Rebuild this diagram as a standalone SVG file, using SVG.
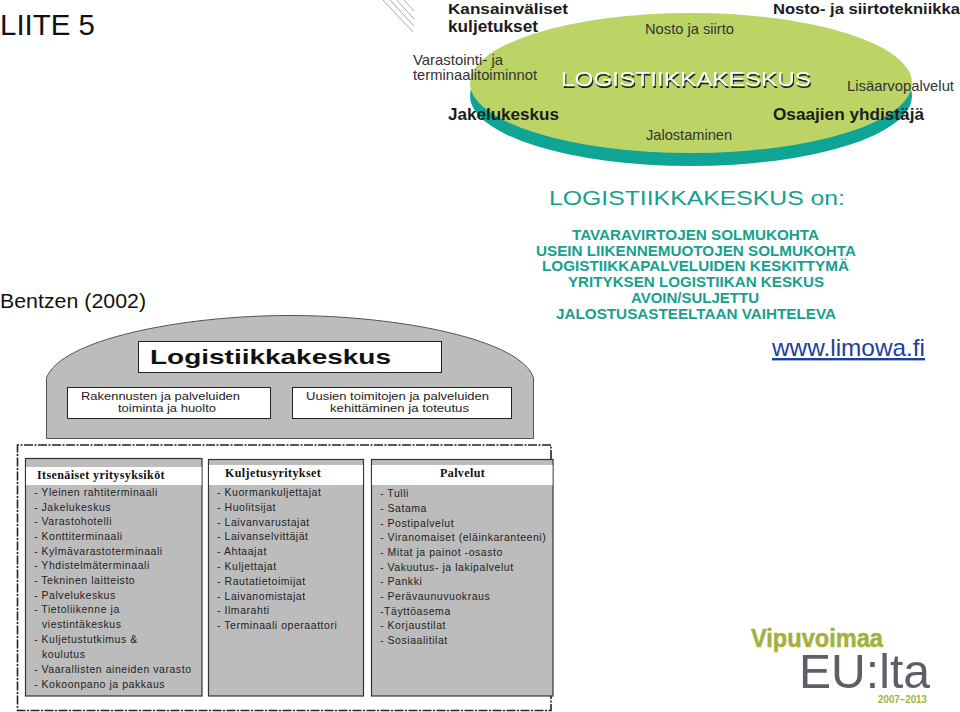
<svg xmlns="http://www.w3.org/2000/svg" width="960" height="712" viewBox="0 0 960 712">
<style>
text{font-family:"Liberation Sans",Arial,sans-serif}
.el{font-size:14.500px;fill:#333}
.elb{font-size:16.500px;font-weight:700;fill:#1c1c1c}
.elt{font-size:15.500px;font-weight:700;fill:#1c1c1c}
.teal{font-size:15.500px;font-weight:700;fill:#17a08e;text-anchor:middle}
.box{fill:#fff;stroke:#222;stroke-width:1}
.panel{fill:#bcbcbc;stroke:#333;stroke-width:1.200}
.ph{font-family:"Liberation Serif",serif;font-size:12px;font-weight:700;fill:#111;letter-spacing:.4px}
.it{font-size:10.500px;fill:#222;letter-spacing:.55px}
.dl{font-size:11.500px;fill:#222}
.frame{fill:none;stroke:#222;stroke-width:1.600;stroke-dasharray:9 1.500 2 1.500}
.tech{filter:drop-shadow(1px 2px 0 #222)}
</style>
<rect width="960" height="712" fill="#fff"/>

<g id="titles">
<text x="0" y="35" font-size="29" fill="#111" textLength="95" lengthAdjust="spacingAndGlyphs">LIITE 5</text>
<text x="0" y="308" font-size="21" fill="#111" textLength="146" lengthAdjust="spacingAndGlyphs">Bentzen (2002)</text>
<text x="772" y="356" font-size="24" fill="#1c3f9e" text-decoration="underline" textLength="153" lengthAdjust="spacingAndGlyphs">www.limowa.fi</text>
</g>

<g id="hatch" stroke="#aaa" stroke-width="1">
<path d="M383 0 413 32M390 0 414 26M397 0 414 19M404 0 414 11"/>
</g>

<g id="logistiikkakeskus-disc">
<ellipse cx="691" cy="96" rx="221" ry="70" fill="#0fa595"/>
<ellipse cx="691" cy="83" rx="221" ry="70" fill="#bbd465"/>
<text class="tech" x="561" y="86" font-size="20" fill="#fff" textLength="250" lengthAdjust="spacingAndGlyphs" font-family="Inter,sans-serif" font-weight="300">LOGISTIIKKAKESKUS</text>
<text class="elt" x="448" y="14" textLength="120" lengthAdjust="spacingAndGlyphs">Kansainväliset</text>
<text class="elb" x="448" y="32" textLength="90" lengthAdjust="spacingAndGlyphs">kuljetukset</text>
<text class="elt" x="773" y="14" textLength="187" lengthAdjust="spacingAndGlyphs">Nosto- ja siirtotekniikka</text>
<text class="el" x="645" y="34" textLength="89" lengthAdjust="spacingAndGlyphs">Nosto ja siirto</text>
<text class="el" x="413" y="65" textLength="90" lengthAdjust="spacingAndGlyphs">Varastointi- ja</text>
<text class="el" x="413" y="80" textLength="124" lengthAdjust="spacingAndGlyphs">terminaalitoiminnot</text>
<text class="el" x="847" y="91" textLength="107" lengthAdjust="spacingAndGlyphs">Lisäarvopalvelut</text>
<text class="elb" x="448" y="120" textLength="111" lengthAdjust="spacingAndGlyphs">Jakelukeskus</text>
<text class="elb" x="773" y="120" textLength="151" lengthAdjust="spacingAndGlyphs">Osaajien yhdistäjä</text>
<text class="el" x="646" y="140" textLength="86" lengthAdjust="spacingAndGlyphs">Jalostaminen</text>
</g>

<g id="logistiikkakeskus-on">
<text x="549" y="205" font-size="20" fill="#17a08e" textLength="296" lengthAdjust="spacingAndGlyphs" font-family="Inter,sans-serif" font-weight="300">LOGISTIIKKAKESKUS on:</text>
<text class="teal" x="695.500" y="240" textLength="247" lengthAdjust="spacingAndGlyphs">TAVARAVIRTOJEN SOLMUKOHTA</text>
<text class="teal" x="696" y="255.500" textLength="320" lengthAdjust="spacingAndGlyphs">USEIN LIIKENNEMUOTOJEN SOLMUKOHTA</text>
<text class="teal" x="695.500" y="271" textLength="307" lengthAdjust="spacingAndGlyphs">LOGISTIIKKAPALVELUIDEN KESKITTYMÄ</text>
<text class="teal" x="696" y="287" textLength="256" lengthAdjust="spacingAndGlyphs">YRITYKSEN LOGISTIIKAN KESKUS</text>
<text class="teal" x="695" y="303" textLength="128" lengthAdjust="spacingAndGlyphs">AVOIN/SULJETTU</text>
<text class="teal" x="696" y="319" textLength="280" lengthAdjust="spacingAndGlyphs">JALOSTUSASTEELTAAN VAIHTELEVA</text>
</g>

<g id="dome">
<path d="M46.500 438.500V378C60 340 180 315.500 290 315.500C400 315.500 522 340 533.500 378V438.500Z" fill="#bcbcbc" stroke="#555" stroke-width="1"/>
</g>
<g id="dome-title">
<rect class="box" x="138.500" y="341.500" width="303" height="31"/>
<text x="150" y="364" font-size="21" font-weight="700" fill="#111" textLength="241" lengthAdjust="spacingAndGlyphs">Logistiikkakeskus</text>
</g>
<g id="dome-left">
<rect class="box" x="67.500" y="387.500" width="203" height="31"/>
<text class="dl" x="81" y="400" textLength="159" lengthAdjust="spacingAndGlyphs">Rakennusten ja palveluiden</text>
<text class="dl" x="118" y="412" textLength="98" lengthAdjust="spacingAndGlyphs">toiminta ja huolto</text>
</g>
<g id="dome-right">
<rect class="box" x="292.500" y="387.500" width="219" height="31"/>
<text class="dl" x="306" y="400" textLength="183" lengthAdjust="spacingAndGlyphs">Uusien toimitojen ja palveluiden</text>
<text class="dl" x="330" y="412" textLength="139" lengthAdjust="spacingAndGlyphs">kehittäminen ja toteutus</text>
</g>

<g id="connectors">
<path class="frame" d="M551 459V445H17.500V710.500H551V696"/>
</g>

<g id="panel-itsenaiset">
<rect class="panel" x="25.500" y="458.500" width="176.500" height="237.500"/>
<rect x="26" y="467" width="175.500" height="18" fill="#fff"/>
<text class="ph" x="37" y="479">Itsenäiset yritysyksiköt</text>
<text class="it" x="34" y="495.500">- Yleinen rahtiterminaali</text>
<text class="it" x="34" y="510.500">- Jakelukeskus</text>
<text class="it" x="34" y="524.500">- Varastohotelli</text>
<text class="it" x="34" y="539.500">- Konttiterminaali</text>
<text class="it" x="34" y="554.500">- Kylmävarastoterminaali</text>
<text class="it" x="34" y="568.500">- Yhdistelmäterminaali</text>
<text class="it" x="34" y="583.500">- Tekninen laitteisto</text>
<text class="it" x="34" y="598.500">- Palvelukeskus</text>
<text class="it" x="34" y="612.500">- Tietoliikenne ja</text>
<text class="it" x="42" y="627.500">viestintäkeskus</text>
<text class="it" x="34" y="642.500">- Kuljetustutkimus &amp;</text>
<text class="it" x="42" y="657.500">koulutus</text>
<text class="it" x="34" y="672.500">- Vaarallisten aineiden varasto</text>
<text class="it" x="34" y="687.500">- Kokoonpano ja pakkaus</text>
</g>

<g id="panel-kuljetus">
<rect class="panel" x="208.500" y="459.500" width="155" height="236.500"/>
<rect x="209" y="465" width="154" height="20" fill="#fff"/>
<text class="ph" x="225" y="477">Kuljetusyritykset</text>
<text class="it" x="217" y="495.500">- Kuormankuljettajat</text>
<text class="it" x="217" y="510.500">- Huolitsijat</text>
<text class="it" x="217" y="525.500">- Laivanvarustajat</text>
<text class="it" x="217" y="539.500">- Laivanselvittäjät</text>
<text class="it" x="217" y="554.500">- Ahtaajat</text>
<text class="it" x="217" y="569.500">- Kuljettajat</text>
<text class="it" x="217" y="584.500">- Rautatietoimijat</text>
<text class="it" x="217" y="599.500">- Laivanomistajat</text>
<text class="it" x="217" y="613.500">- Ilmarahti</text>
<text class="it" x="217" y="628.500">- Terminaali operaattori</text>
</g>

<g id="panel-palvelut">
<rect class="panel" x="371.500" y="459.500" width="181.500" height="236.500"/>
<rect x="372" y="465" width="180.500" height="20" fill="#fff"/>
<text class="ph" x="440" y="477">Palvelut</text>
<text class="it" x="380" y="496.500">- Tulli</text>
<text class="it" x="380" y="511.500">- Satama</text>
<text class="it" x="380" y="526.500">- Postipalvelut</text>
<text class="it" x="380" y="540.500">- Viranomaiset (eläinkaranteeni)</text>
<text class="it" x="380" y="555.500">- Mitat ja painot -osasto</text>
<text class="it" x="380" y="570.500">- Vakuutus- ja lakipalvelut</text>
<text class="it" x="380" y="584.500">- Pankki</text>
<text class="it" x="380" y="599.500">- Perävaunuvuokraus</text>
<text class="it" x="380" y="614.500">-Täyttöasema</text>
<text class="it" x="380" y="628.500">- Korjaustilat</text>
<text class="it" x="380" y="643.500">- Sosiaalitilat</text>
</g>

<g id="eu-logo">
<text x="751" y="647" font-size="25" font-weight="800" fill="#a3b13c" stroke="#a3b13c" stroke-width=".5" font-family="'Open Sans',sans-serif" textLength="132" lengthAdjust="spacingAndGlyphs">Vipuvoimaa</text>
<text x="799" y="688" font-size="49" font-weight="200" fill="#5c6066" font-family="Inter,sans-serif" textLength="131" lengthAdjust="spacingAndGlyphs">EU:lta</text>
<text x="878" y="703" font-size="10" font-weight="700" fill="#a3b13c" font-family="Lato,sans-serif" textLength="49" lengthAdjust="spacingAndGlyphs">2007–2013</text>
</g>
</svg>
